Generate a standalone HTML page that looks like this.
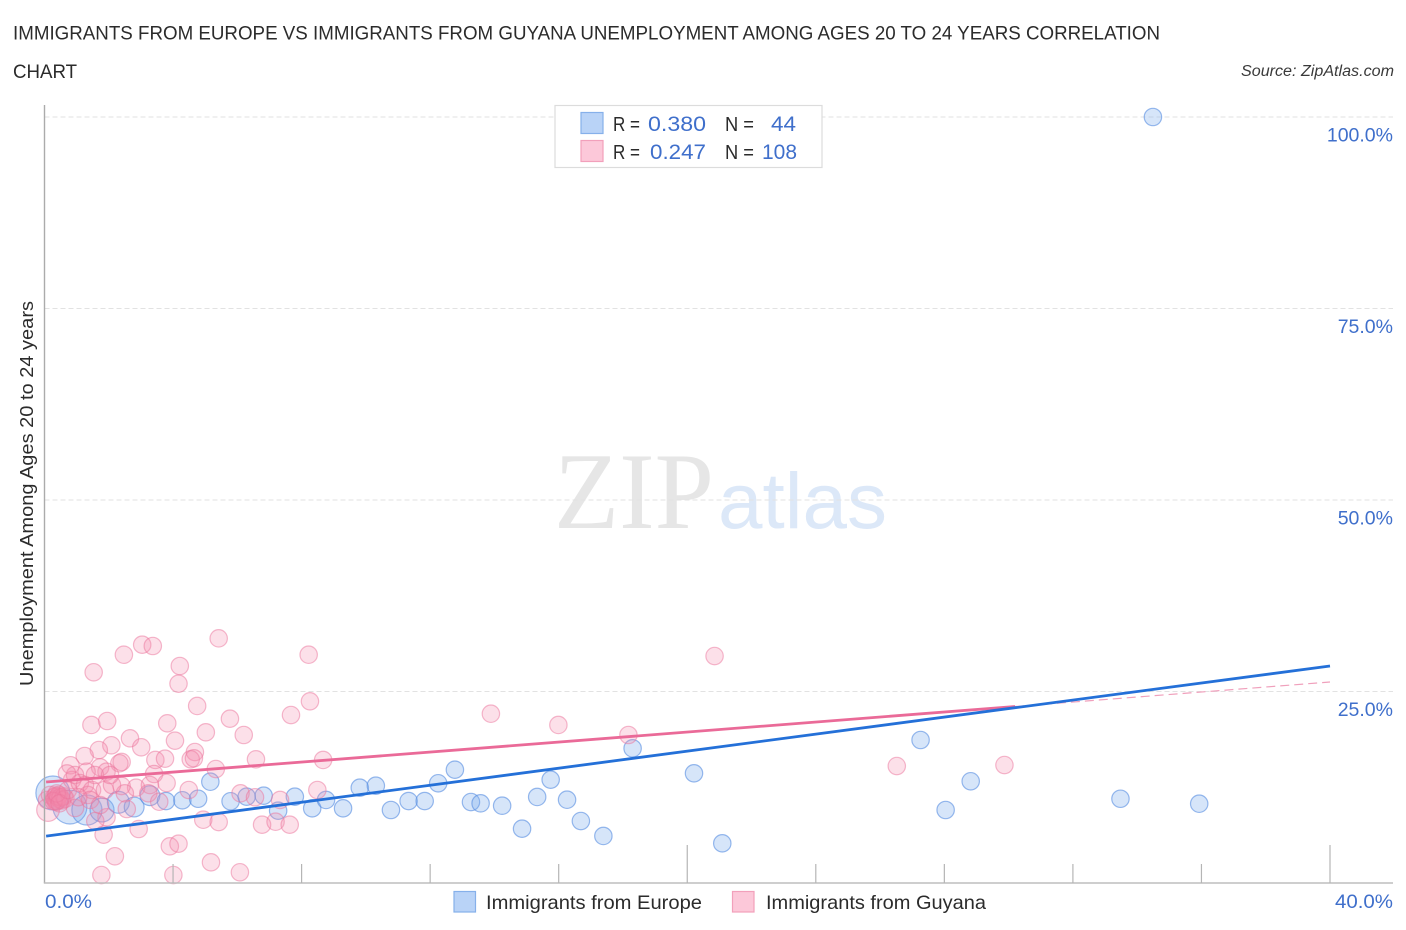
<!DOCTYPE html>
<html lang="en">
<head>
<meta charset="utf-8">
<title>Immigrants from Europe vs Immigrants from Guyana Unemployment Correlation Chart</title>
<style>
html,body{margin:0;padding:0;background:#fff;}
body{width:1406px;height:930px;overflow:hidden;}
svg{display:block;font-family:"Liberation Sans",sans-serif;}
</style>
</head>
<body>
<svg id="chart" width="1406" height="930" viewBox="0 0 1406 930" xmlns="http://www.w3.org/2000/svg">
  <rect x="0" y="0" width="1406" height="930" fill="#ffffff"/>
  <text x="13" y="39.5" font-size="19.5" fill="#2b2b2b" textLength="1147" lengthAdjust="spacingAndGlyphs">IMMIGRANTS FROM EUROPE VS IMMIGRANTS FROM GUYANA UNEMPLOYMENT AMONG AGES 20 TO 24 YEARS CORRELATION</text>
  <text x="13" y="78" font-size="19.5" fill="#2b2b2b" textLength="64" lengthAdjust="spacingAndGlyphs">CHART</text>
  <text x="1241" y="76" font-size="15.5" font-style="italic" fill="#3a3a3a" textLength="153" lengthAdjust="spacingAndGlyphs">Source: ZipAtlas.com</text>
  <text x="554" y="528" font-size="109" font-family="'Liberation Serif',serif" fill="#e6e6e6" textLength="160" lengthAdjust="spacingAndGlyphs">ZIP</text>
  <text x="718" y="528" font-size="79" fill="#dce8f8" textLength="169" lengthAdjust="spacingAndGlyphs">atlas</text>
  <g id="grid"></g>
  <g id="europe-points"></g>
  <g id="guyana-points"></g>
  <g id="axes"></g>
  <g id="trends"></g>
  <g id="y-labels"></g>
  <text transform="translate(33,686) rotate(-90)" x="0" y="0" font-size="18.5" fill="#2b2b2b" textLength="385" lengthAdjust="spacingAndGlyphs">Unemployment Among Ages 20 to 24 years</text>
  <text x="45" y="908" font-size="19.5" fill="#3f6fcb" textLength="47" lengthAdjust="spacingAndGlyphs">0.0%</text>
  <text x="1335" y="908" font-size="19.5" fill="#3f6fcb" textLength="58" lengthAdjust="spacingAndGlyphs">40.0%</text>

  <g>
    <rect x="555" y="105.5" width="267" height="62" fill="#ffffff" stroke="#dcdcdc" stroke-width="1.2"/>
    <rect x="581" y="112.5" width="22" height="21" fill="#b9d3f7" stroke="#86b0ea" stroke-width="1.2"/>
    <rect x="581" y="140.5" width="22" height="21" fill="#fcc8d9" stroke="#f2a0bb" stroke-width="1.2"/>
    <text x="613" y="131" font-size="20" fill="#2b2b2b" textLength="27" lengthAdjust="spacingAndGlyphs">R =</text>
    <text x="648" y="131" font-size="21" fill="#3f6fcb" textLength="58" lengthAdjust="spacingAndGlyphs">0.380</text>
    <text x="725" y="131" font-size="20" fill="#2b2b2b" textLength="29" lengthAdjust="spacingAndGlyphs">N =</text>
    <text x="771" y="131" font-size="21" fill="#3f6fcb" textLength="25" lengthAdjust="spacingAndGlyphs">44</text>
    <text x="613" y="159" font-size="20" fill="#2b2b2b" textLength="27" lengthAdjust="spacingAndGlyphs">R =</text>
    <text x="650" y="159" font-size="21" fill="#3f6fcb" textLength="56" lengthAdjust="spacingAndGlyphs">0.247</text>
    <text x="725" y="159" font-size="20" fill="#2b2b2b" textLength="29" lengthAdjust="spacingAndGlyphs">N =</text>
    <text x="762" y="159" font-size="21" fill="#3f6fcb" textLength="35" lengthAdjust="spacingAndGlyphs">108</text>
  </g>

  <g>
    <rect x="454" y="891.5" width="21.5" height="20.5" fill="#b9d3f7" stroke="#86b0ea" stroke-width="1.2"/>
    <text x="486" y="909" font-size="19.5" fill="#2b2b2b" textLength="216" lengthAdjust="spacingAndGlyphs">Immigrants from Europe</text>
    <rect x="732.5" y="891.5" width="21.5" height="20.5" fill="#fcc8d9" stroke="#f2a0bb" stroke-width="1.2"/>
    <text x="766" y="909" font-size="19.5" fill="#2b2b2b" textLength="220" lengthAdjust="spacingAndGlyphs">Immigrants from Guyana</text>
  </g>
</svg>
<script>
const yTickValues = [25, 50, 75, 100];
const yTickLabels = ["25.0%", "50.0%", "75.0%", "100.0%"];
const xTickValues = [4, 8, 12, 16, 20, 24, 28, 32, 36, 40];
const xMajorTicks = [20, 40];

const europeX = [0.26,0.79,1.32,1.79,2.30,2.79,3.28,3.78,4.29,4.78,5.16,5.79,6.29,6.82,7.27,7.79,8.33,8.76,9.29,9.81,10.31,10.78,11.33,11.83,12.25,12.77,13.27,13.57,14.24,14.86,15.33,15.75,16.26,16.69,17.39,18.30,20.21,21.09,27.26,28.04,28.82,33.48,35.93,34.49];
const europeY = [11.75,9.92,9.53,9.53,10.54,9.92,11.40,10.70,10.80,11.00,13.22,10.67,11.27,11.40,9.44,11.27,9.75,10.84,9.75,12.44,12.70,9.53,10.70,10.70,13.02,14.79,10.57,10.40,10.09,7.09,11.23,13.49,10.87,8.09,6.14,17.58,14.32,5.18,18.67,9.53,13.28,11.00,10.35,100];
const europeWeights = [3.8,3.8,3,1.9,1.6,1.3,1.3,1,1,1,1,1,1,1,1,1,1,1,1,1,1,1,1,1,1,1,1,1,1,1,1,1,1,1,1,1,1,1,1,1,1,1,1,1];

const guyanaX = [5.42,3.04,3.37,2.47,8.22,1.53,4.21,4.17,8.26,4.75,7.67,5.77,1.46,1.95,3.82,5.02,6.20,2.66,4.06,2.08,1.69,3.01,1.25,4.68,4.55,4.65,6.58,8.67,3.45,3.75,2.40,2.33,5.33,0.81,3.41,1.73,1.31,1.93,3.80,2.85,2.40,3.28,4.49,6.10,6.55,7.33,8.49,2.50,3.23,3.57,2.56,1.93,1.58,4.94,5.42,2.93,1.84,6.77,7.19,7.63,3.90,4.17,2.19,5.18,1.77,4.01,6.08,13.89,15.99,18.17,20.85,26.52,29.87,0.08,0.11,0.17,0.30,0.33,0.36,0.39,0.42,0.45,0.48,0.36,0.42,0.50,0.55,0.60,0.28,0.65,0.38,0.47,0.73,0.86,0.95,0.70,1.10,1.26,1.35,1.48,1.57,1.42,1.73,1.88,2.10,2.04,0.95,1.05];
const guyanaY = [31.94,31.11,30.94,29.80,29.80,27.51,28.33,26.02,23.72,23.11,21.93,21.45,20.63,21.15,20.85,19.67,19.32,18.89,18.58,17.98,17.36,17.72,16.58,17.10,16.15,16.28,16.15,16.06,16.06,16.23,15.80,15.63,14.88,15.37,14.23,15.10,14.53,14.53,13.05,12.44,12.66,12.79,12.14,11.71,11.19,10.84,12.14,11.71,11.71,10.61,9.66,8.58,8.09,8.26,7.96,7.05,6.31,7.61,8.00,7.61,4.79,5.13,3.49,2.70,1.04,1.04,1.40,22.10,20.63,19.32,29.63,15.27,15.40,10.84,9.53,11.49,11.20,10.90,11.40,10.70,11.10,11.50,10.90,10.60,11.30,11.20,10.80,11.30,10.70,11.00,11.70,10.40,12.14,13.45,14.10,14.30,13.05,12.79,11.49,12.14,14.10,10.84,10.18,12.14,12.79,14.10,9.79,11.20];
const guyanaWeights = [1,1,1,1,1,1,1,1,1,1,1,1,1,1,1,1,1,1,1,1,1,1,1,1,1,1,1,1,1,1,1,1,1,1,1,1,1,1,1,1,1,1,1,1,1,1,1,1,1,1,1,1,1,1,1,1,1,1,1,1,1,1,1,1,1,1,1,1,1,1,1,1,1,1,1.7,1,1,1,1,1,1,1,1,1,1,1,1,1,1,1,1,1,1,1,1,1,1,1,1,1,1,1,1,1,1,1,1,1];

const trendX = [0.05, 40];
const europeTrendY = [6.12, 28.33];
const guyanaTrendY = [13.19, 26.24];
const guyanaSolidEndX = 30.2;

const NS = 'http://www.w3.org/2000/svg';
const X0 = 44.5, X40 = 1330, Y0 = 883, Y100 = 117, RIGHT = 1393;
function xScale(v) { return X0 + (X40 - X0) * v / 40; }
function yScale(v) { return Y0 - (Y0 - Y100) * v / 100; }
function radius(w) { return 8.7 * Math.sqrt(w); }
function lerp(xs, ys, x) { return ys[0] + (ys[1] - ys[0]) * (x - xs[0]) / (xs[1] - xs[0]); }
function make(tag, parentId, attrs) {
  const el = document.createElementNS(NS, tag);
  for (const k in attrs) el.setAttribute(k, attrs[k]);
  document.getElementById(parentId).appendChild(el);
  return el;
}

yTickValues.forEach(function (v, i) {
  const line = make('line', 'grid', {x1: X0, x2: RIGHT, y1: yScale(v), y2: yScale(v), stroke: '#e2e2e2', 'stroke-width': 1, 'stroke-dasharray': '5 3'});
  
  
  const label = make('text', 'y-labels', {x: RIGHT, y: yScale(v) + 24.5, 'text-anchor': 'end', 'font-size': 19.5, fill: '#3f6fcb'});
  label.textContent = yTickLabels[i];
  
  
});

europeX.forEach(function (x, i) {
  const c = make('circle', 'europe-points', {cx: xScale(x), cy: yScale(europeY[i]), r: radius(europeWeights[i]), fill: 'rgba(120,170,235,0.3)', stroke: 'rgba(85,140,225,0.6)', 'stroke-width': 1.2});
  
  
});

guyanaX.forEach(function (x, i) {
  const c = make('circle', 'guyana-points', {cx: xScale(x), cy: yScale(guyanaY[i]), r: radius(guyanaWeights[i]), fill: 'rgba(245,140,175,0.27)', stroke: 'rgba(235,115,155,0.5)', 'stroke-width': 1.2});
  
  
});

const yAxis = make('line', 'axes', {x1: X0, x2: X0, y1: 105, y2: Y0, stroke: '#ababab', 'stroke-width': 1.4});


const xAxis = make('line', 'axes', {x1: X0 - 0.7, x2: RIGHT, y1: Y0, y2: Y0, stroke: '#bdbdbd', 'stroke-width': 1.4});


xTickValues.forEach(function (v) {
  const top = xMajorTicks.indexOf(v) >= 0 ? 845 : 864;
  const t = make('line', 'axes', {x1: xScale(v), x2: xScale(v), y1: top, y2: Y0, stroke: '#b5b5b5', 'stroke-width': 1.2});
  
  
});

const guyanaDash = make('line', 'trends', {x1: xScale(guyanaSolidEndX), y1: yScale(lerp(trendX, guyanaTrendY, guyanaSolidEndX)), x2: xScale(trendX[1]), y2: yScale(guyanaTrendY[1]), stroke: '#f0a0bc', 'stroke-width': 1.2, 'stroke-dasharray': '9 5'});


const guyanaSolid = make('line', 'trends', {x1: xScale(trendX[0]), y1: yScale(guyanaTrendY[0]), x2: xScale(guyanaSolidEndX), y2: yScale(lerp(trendX, guyanaTrendY, guyanaSolidEndX)), stroke: '#ea6a98', 'stroke-width': 2.8});


const europeLine = make('line', 'trends', {x1: xScale(trendX[0]), y1: yScale(europeTrendY[0]), x2: xScale(trendX[1]), y2: yScale(europeTrendY[1]), stroke: '#2470d8', 'stroke-width': 2.8});


</script>
</body>
</html>
